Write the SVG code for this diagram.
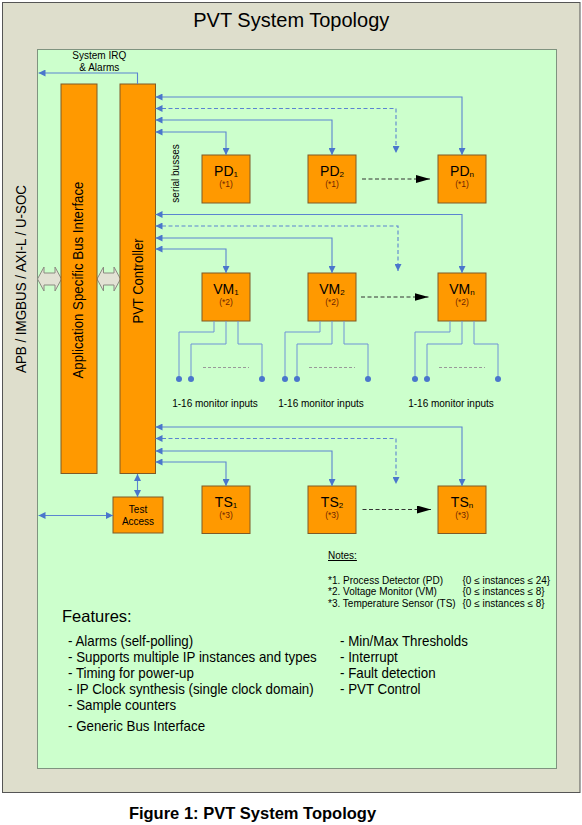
<svg xmlns="http://www.w3.org/2000/svg" width="582" height="825" viewBox="0 0 582 825">
<defs>
<style>
text{font-family:"Liberation Sans",Arial,sans-serif;fill:#000}
.box{fill:#ff9900;stroke:#7f5a26;stroke-width:1}
.lbl{font-size:14px;text-anchor:middle}
.sub{font-size:8px}
.nt{font-size:8.5px;text-anchor:middle;fill:#6e2400}
.con{fill:none;stroke:#5b84d0;stroke-width:1.1}
.dash{stroke-dasharray:4,2.5}
.blk{fill:none;stroke:#333;stroke-width:1;stroke-dasharray:4,2.5}
.mon{fill:none;stroke:#6f93d6;stroke-width:1}
.dot{fill:#4a76cc}
.gd{stroke:#999;stroke-width:1;stroke-dasharray:3,2}
.small{font-size:10px}
.feat{font-size:14.5px}
.barrow{fill:#e2e2d4;stroke:#8a8a80;stroke-width:1}
</style>
<marker id="ah" viewBox="0 0 8 8" refX="8" refY="4" markerWidth="7" markerHeight="7" markerUnits="userSpaceOnUse" orient="auto-start-reverse"><path d="M0,0 L8,4 L0,8 z" fill="#4a76cc"/></marker>
<marker id="bh" viewBox="0 0 14 8" refX="14" refY="4" markerWidth="14" markerHeight="8" markerUnits="userSpaceOnUse" orient="auto"><path d="M0,0 L14,4 L0,8 z" fill="#000"/></marker>
</defs>

<g id="frame">
<rect x="2.5" y="2.5" width="577.5" height="790" fill="#dedecc" stroke="#555" stroke-width="1"/>
<text x="291.3" y="27" font-size="20" text-anchor="middle">PVT System Topology</text>
<rect x="37.5" y="49.5" width="519" height="719" fill="#ccffcc" stroke="#7f937f" stroke-width="1"/>
<text transform="translate(25.5,279) rotate(-90)" font-size="14.5" text-anchor="middle" textLength="188" lengthAdjust="spacingAndGlyphs">APB / IMGBUS / AXI-L / U-SOC</text>
</g>

<g id="bus-arrows">
<polygon class="barrow" points="37.5,279 44,267 44,273 55,273 55,267 61.5,279 55,291 55,285 44,285 44,291"/>
<polygon class="barrow" points="97,279 103.5,267 103.5,273 114,273 114,267 120.5,279 114,291 114,285 103.5,285 103.5,291"/>
</g>

<g id="asbi">
<rect class="box" x="61" y="84" width="36" height="389.5"/>
<text transform="translate(82.5,280) rotate(-90)" font-size="14.5" text-anchor="middle" textLength="197" lengthAdjust="spacingAndGlyphs">Application Specific Bus Interface</text>
</g>

<g id="pvt-controller">
<rect class="box" x="120" y="84" width="35.5" height="389.5"/>
<text transform="translate(143,281) rotate(-90)" font-size="14.5" text-anchor="middle" textLength="85" lengthAdjust="spacingAndGlyphs">PVT Controller</text>
</g>

<g id="test-access">
<rect class="box" x="113" y="497" width="50" height="36"/>
<text x="138" y="512.5" font-size="10" text-anchor="middle">Test</text>
<text x="138" y="524.5" font-size="10" text-anchor="middle">Access</text>
</g>

<g id="labels">
<text x="99.3" y="58.5" class="small" text-anchor="middle">System IRQ</text>
<text x="99.3" y="70.5" class="small" text-anchor="middle">&amp; Alarms</text>
<text transform="translate(178.5,173.5) rotate(-90)" class="small" text-anchor="middle">serial busses</text>
</g>

<g id="pd1"><rect class="box" x="202" y="155" width="48" height="48"/><text class="lbl" x="226" y="175.5">PD<tspan class="sub" dy="1">1</tspan></text><text class="nt" x="226" y="187">(*1)</text></g>
<g id="pd2"><rect class="box" x="308" y="155" width="48" height="48"/><text class="lbl" x="332" y="175.5">PD<tspan class="sub" dy="1">2</tspan></text><text class="nt" x="332" y="187">(*1)</text></g>
<g id="pdn"><rect class="box" x="438" y="155" width="48" height="48"/><text class="lbl" x="462" y="175.5">PD<tspan class="sub" dy="1">n</tspan></text><text class="nt" x="462" y="187">(*1)</text></g>

<g id="vm1"><rect class="box" x="202" y="273" width="48" height="48"/><text class="lbl" x="226" y="293.5">VM<tspan class="sub" dy="1">1</tspan></text><text class="nt" x="226" y="305">(*2)</text></g>
<g id="vm2"><rect class="box" x="308" y="273" width="48" height="48"/><text class="lbl" x="332" y="293.5">VM<tspan class="sub" dy="1">2</tspan></text><text class="nt" x="332" y="305">(*2)</text></g>
<g id="vmn"><rect class="box" x="438" y="273" width="48" height="48"/><text class="lbl" x="462" y="293.5">VM<tspan class="sub" dy="1">n</tspan></text><text class="nt" x="462" y="305">(*2)</text></g>

<g id="ts1"><rect class="box" x="202" y="486" width="48" height="47.5"/><text class="lbl" x="226" y="506.5">TS<tspan class="sub" dy="1">1</tspan></text><text class="nt" x="226" y="518">(*3)</text></g>
<g id="ts2"><rect class="box" x="308" y="486" width="48" height="47.5"/><text class="lbl" x="332" y="506.5">TS<tspan class="sub" dy="1">2</tspan></text><text class="nt" x="332" y="518">(*3)</text></g>
<g id="tsn"><rect class="box" x="438" y="486" width="48" height="47.5"/><text class="lbl" x="462" y="506.5">TS<tspan class="sub" dy="1">n</tspan></text><text class="nt" x="462" y="518">(*3)</text></g>

<g id="connectors">
<path class="con" d="M137.5,84 V73 H38.5" marker-end="url(#ah)"/>
<path class="con" d="M137.5,474 V497" marker-start="url(#ah)" marker-end="url(#ah)"/>
<path class="con" d="M38.5,515.5 H113" marker-start="url(#ah)" marker-end="url(#ah)"/>

<path class="con" d="M155.5,132 H226 V155" marker-start="url(#ah)" marker-end="url(#ah)"/>
<path class="con" d="M155.5,120 H332 V155" marker-start="url(#ah)" marker-end="url(#ah)"/>
<path class="con dash" d="M155.5,108.5 H396 V153" marker-start="url(#ah)" marker-end="url(#ah)"/>
<path class="con" d="M155.5,97 H462 V155" marker-start="url(#ah)" marker-end="url(#ah)"/>

<path class="con" d="M155.5,249 H226 V273" marker-start="url(#ah)" marker-end="url(#ah)"/>
<path class="con" d="M155.5,238 H332 V273" marker-start="url(#ah)" marker-end="url(#ah)"/>
<path class="con dash" d="M155.5,226 H398 V271" marker-start="url(#ah)" marker-end="url(#ah)"/>
<path class="con" d="M155.5,214.5 H462 V273" marker-start="url(#ah)" marker-end="url(#ah)"/>

<path class="con" d="M155.5,462 H226 V486" marker-start="url(#ah)" marker-end="url(#ah)"/>
<path class="con" d="M155.5,451 H332 V486" marker-start="url(#ah)" marker-end="url(#ah)"/>
<path class="con dash" d="M155.5,438.5 H396 V484" marker-start="url(#ah)" marker-end="url(#ah)"/>
<path class="con" d="M155.5,427 H462 V486" marker-start="url(#ah)" marker-end="url(#ah)"/>

<path class="blk" d="M362,179 H430" marker-end="url(#bh)"/>
<path class="blk" d="M361,297 H428.5" marker-end="url(#bh)"/>
<path class="blk" d="M362.5,509.5 H431" marker-end="url(#bh)"/>

<path class="mon" d="M214,321 V332 H179 V379 M226,321 V344 H191 V379 M238,321 V344 H262 V379"/>
<path class="mon" d="M320,321 V332 H285 V379 M332,321 V344 H297 V379 M344,321 V344 H368 V379"/>
<path class="mon" d="M450,321 V332 H415 V379 M462,321 V344 H427 V379 M474,321 V344 H498 V379"/>
<path class="gd" d="M203,367.5 H249 M309,367.5 H355 M439,367.5 H485"/>
<circle class="dot" cx="179" cy="379" r="3"/><circle class="dot" cx="191" cy="379" r="3"/><circle class="dot" cx="262" cy="379" r="3"/>
<circle class="dot" cx="285" cy="379" r="3"/><circle class="dot" cx="297" cy="379" r="3"/><circle class="dot" cx="368" cy="379" r="3"/>
<circle class="dot" cx="415" cy="379" r="3"/><circle class="dot" cx="427" cy="379" r="3"/><circle class="dot" cx="498" cy="379" r="3"/>
</g>

<g id="monitor-labels" class="small">
<text x="215" y="406.5" text-anchor="middle">1-16 monitor inputs</text>
<text x="321" y="406.5" text-anchor="middle">1-16 monitor inputs</text>
<text x="451" y="406.5" text-anchor="middle">1-16 monitor inputs</text>
</g>

<g id="notes" class="small">
<text x="328" y="559" text-decoration="underline">Notes:</text>
<text x="328" y="583.5">*1. Process Detector (PD)</text>
<text x="328" y="595.3">*2. Voltage Monitor (VM)</text>
<text x="328" y="607">*3. Temperature Sensor (TS)</text>
<text x="462.5" y="583.5">{0 ≤ instances ≤ 24}</text>
<text x="462.5" y="595.3">{0 ≤ instances ≤ 8}</text>
<text x="462.5" y="607">{0 ≤ instances ≤ 8}</text>
</g>

<g id="features">
<text x="62" y="621.5" font-size="16.5">Features:</text>
<g transform="matrix(0.92 0 0 1 68 0)" class="feat">
<text x="0" y="646.5">- Alarms (self-polling)</text>
<text x="0" y="662.5">- Supports multiple IP instances and types</text>
<text x="0" y="678.3">- Timing for power-up</text>
<text x="0" y="694.3">- IP Clock synthesis (single clock domain)</text>
<text x="0" y="710">- Sample counters</text>
<text x="0" y="731.5">- Generic Bus Interface</text>
</g>
<g transform="matrix(0.92 0 0 1 340 0)" class="feat">
<text x="0" y="646.5">- Min/Max Thresholds</text>
<text x="0" y="662.5">- Interrupt</text>
<text x="0" y="678.3">- Fault detection</text>
<text x="0" y="694">- PVT Control</text>
</g>
</g>

<text x="252.5" y="819" font-size="16.5" font-weight="bold" text-anchor="middle">Figure 1: PVT System Topology</text>
</svg>
